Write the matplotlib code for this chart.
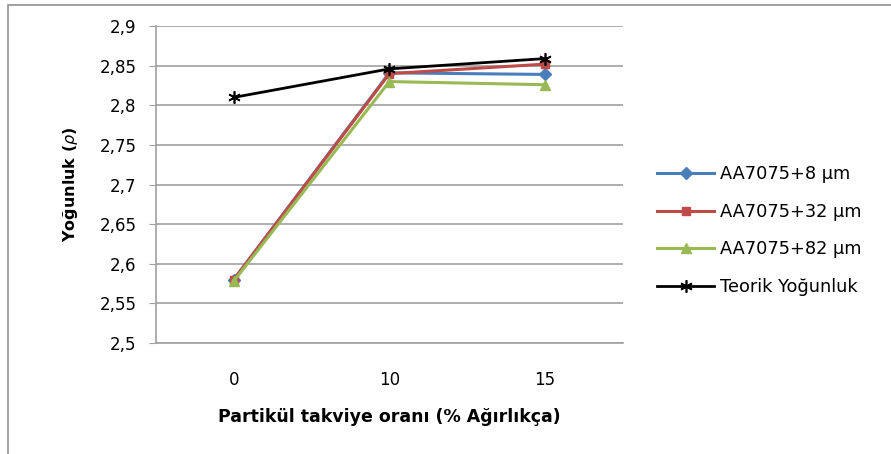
import matplotlib.pyplot as plt
from matplotlib.patches import Rectangle

plt.rcParams['font.family'] = ['DejaVu Sans']

categories = ['0', '10', '15']
s8 = [2.580, 2.841, 2.839]
s32 = [2.580, 2.840, 2.852]
s82 = [2.578, 2.830, 2.826]
teorik = [2.810, 2.846, 2.859]
yticks = [2.5, 2.55, 2.6, 2.65, 2.7, 2.75, 2.8, 2.85, 2.9]

fig = plt.figure(figsize=(8.91, 4.54), dpi=100)
ax = fig.add_axes([0.175, 0.2445, 0.524, 0.698])

x = range(len(categories))
ax.plot(x, s8, color='#4A7EBB', lw=2.2, marker='D', ms=6, label='AA7075+8 µm', zorder=3)
ax.plot(x, s32, color='#BE4B48', lw=2.2, marker='s', ms=6, label='AA7075+32 µm', zorder=3)
ax.plot(x, s82, color='#98B954', lw=2.2, marker='^', ms=7, label='AA7075+82 µm', zorder=3)
ax.plot(x, teorik, color='black', lw=2.0, marker=(6, 2, 0), ms=9, mew=1.2,
        label='Teorik Yoğunluk', zorder=4)

ax.set_xlim(-0.5, 2.5)
ax.set_ylim(2.5, 2.9)
ax.set_xticks(list(x))
ax.set_xticklabels(categories, fontsize=12)
ax.set_yticks(yticks)
ax.set_yticklabels([('%g' % v).replace('.', ',') for v in yticks], fontsize=12)
ax.grid(axis='y', color='#A0A0A0', lw=1.2)
ax.set_axisbelow(True)
for side in ['top', 'right']:
    ax.spines[side].set_visible(False)
for side in ['left', 'bottom']:
    ax.spines[side].set_color('#A0A0A0')
    ax.spines[side].set_linewidth(1.2)
ax.tick_params(axis='y', length=5, color='#A0A0A0', pad=9)
ax.tick_params(axis='x', length=0, pad=20)

ax.set_ylabel(r'Yoğunluk ($\rho$)', fontsize=11.5, fontweight='bold', labelpad=14)
ax.set_xlabel('Partikül takviye oranı (% Ağırlıkça)', fontsize=12.5, fontweight='bold', labelpad=14)

ax.legend(loc='center left', bbox_to_anchor=(1.04, 0.355), frameon=False, fontsize=12.8,
          handlelength=3.2, labelspacing=1.1, handletextpad=0.3)

fig.patches.append(Rectangle((0.009, -0.05), 1.2, 1.04, transform=fig.transFigure,
                             fill=False, edgecolor='#909090', lw=1.2))

fig.savefig('out.png', dpi=100)
